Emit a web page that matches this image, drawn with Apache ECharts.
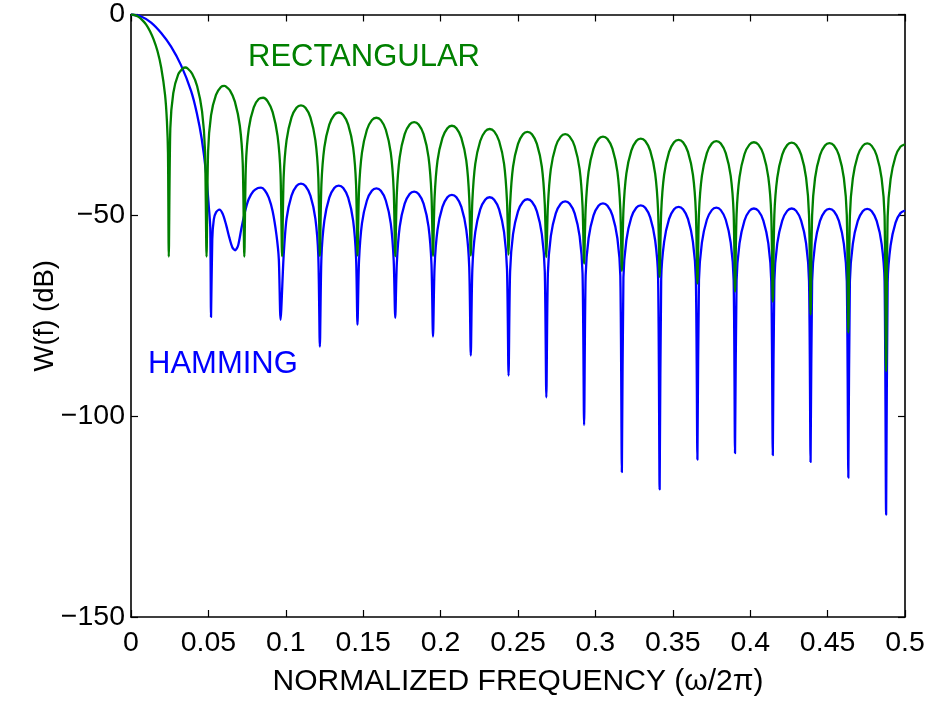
<!DOCTYPE html>
<html>
<head>
<meta charset="utf-8">
<script src="https://cdn.jsdelivr.net/npm/echarts@6/dist/echarts.min.js"></script>
<style>
html,body{margin:0;padding:0;background:#fff;}
#chart{width:932px;height:702px;}
</style>
</head>
<body>
<div id="chart"></div>
<script>
// ---- Data ----
const xTicks = [0, 0.05, 0.1, 0.15, 0.2, 0.25, 0.3, 0.35, 0.4, 0.45, 0.5];
const yTicks = [0, -50, -100, -150];

// Rectangular window: main lobe and first three sidelobes
const rectEarlyFreq = [
  0, 0.0024, 0.0049, 0.0073, 0.0098, 0.0122, 0.0146, 0.0171, 0.0195, 0.0220, 0.0232, 0.0239, 0.0244,
  0.0254, 0.0273, 0.0305, 0.0337, 0.0351, 0.0366, 0.0395, 0.0427, 0.0459, 0.0478, 0.0488,
  0.0498, 0.0517, 0.0549, 0.0581, 0.0603, 0.0610, 0.0639, 0.0671, 0.0703, 0.0722, 0.0732,
  0.0742, 0.0761, 0.0793, 0.0825, 0.0854, 0.0883, 0.0915, 0.0947, 0.0966, 0.0976
];
const rectEarlyDb = [
  0, -0.15, -0.6, -1.4, -2.5, -4.1, -6.2, -9.1, -13.2, -20.0, -26.5, -34.5, -60.3,
  -28.3, -19.6, -14.9, -13.35, -13.2, -13.45, -14.75, -17.8, -24.1, -33.8, -60.3,
  -34.1, -25.1, -20.0, -18.06, -17.78, -17.85, -18.9, -21.7, -27.7, -37.3, -60.3,
  -37.6, -28.4, -23.1, -21.05, -20.72, -21.64, -24.3, -30.3, -39.8, -60.2
];

// Hamming window: main lobe, small first sidelobe, shallow dip, second sidelobe
const hammEarlyFreq = [
  0, 0.0065, 0.0130, 0.0195, 0.0259, 0.0323, 0.0388, 0.0425, 0.0457, 0.0485, 0.0503, 0.0512, 0.0517,
  0.0525, 0.0535, 0.0550, 0.0571, 0.0592, 0.0612, 0.0635, 0.0655, 0.0673,
  0.0692, 0.0712, 0.0737, 0.0760, 0.0790, 0.0820, 0.0840, 0.0865, 0.0890, 0.0915, 0.0940, 0.0955, 0.0966
];
const hammEarlyDb = [
  0, -0.5, -2.0, -4.6, -8.0, -12.6, -19.0, -24.5, -31.0, -39.5, -48.0, -53.0, -75.3,
  -56.0, -51.0, -49.2, -48.6, -49.6, -52.0, -55.5, -58.0, -58.7,
  -57.5, -53.5, -49.0, -46.0, -44.0, -43.2, -43.1, -43.8, -45.6, -49.0, -55.0, -61.0, -76.0
];

// Shared frequency grid for the far sidelobes (both windows have nulls here)
const lobeFreq = [
  0.0986, 0.1005, 0.1037, 0.1069, 0.1098, 0.1127, 0.1159, 0.1191, 0.1210, 0.1220,
  0.1230, 0.1249, 0.1281, 0.1313, 0.1342, 0.1371, 0.1403, 0.1435, 0.1454, 0.1463,
  0.1473, 0.1492, 0.1524, 0.1556, 0.1585, 0.1614, 0.1646, 0.1678, 0.1697, 0.1707,
  0.1717, 0.1736, 0.1768, 0.1800, 0.1829, 0.1858, 0.1890, 0.1922, 0.1941, 0.1951,
  0.1961, 0.1980, 0.2012, 0.2044, 0.2073, 0.2102, 0.2134, 0.2166, 0.2185, 0.2195,
  0.2205, 0.2224, 0.2256, 0.2288, 0.2317, 0.2346, 0.2378, 0.2410, 0.2429, 0.2439,
  0.2449, 0.2468, 0.2500, 0.2532, 0.2561, 0.2590, 0.2622, 0.2654, 0.2673, 0.2683,
  0.2693, 0.2712, 0.2744, 0.2776, 0.2805, 0.2834, 0.2866, 0.2898, 0.2917, 0.2927,
  0.2937, 0.2956, 0.2988, 0.3020, 0.3049, 0.3078, 0.3110, 0.3142, 0.3161, 0.3171,
  0.3181, 0.3200, 0.3232, 0.3264, 0.3293, 0.3322, 0.3354, 0.3386, 0.3405, 0.3415,
  0.3425, 0.3444, 0.3476, 0.3508, 0.3537, 0.3566, 0.3598, 0.3630, 0.3649, 0.3659,
  0.3669, 0.3688, 0.3720, 0.3752, 0.3781, 0.3810, 0.3842, 0.3874, 0.3893, 0.3902,
  0.3912, 0.3931, 0.3963, 0.3995, 0.4024, 0.4053, 0.4085, 0.4117, 0.4136, 0.4146,
  0.4156, 0.4175, 0.4207, 0.4239, 0.4268, 0.4297, 0.4329, 0.4361, 0.4380, 0.4390,
  0.4400, 0.4419, 0.4451, 0.4483, 0.4512, 0.4541, 0.4573, 0.4605, 0.4624, 0.4634,
  0.4644, 0.4663, 0.4695, 0.4727, 0.4756, 0.4785, 0.4817, 0.4849, 0.4868, 0.4878,
  0.4888, 0.4907, 0.4939, 0.4971, 0.5000
];
const rectLobeDb = [
  -40.6, -31.3, -25.6, -23.2, -22.6, -23.2, -25.6, -31.3, -40.6, -60.1,
  -42.4, -33.1, -27.4, -25.0, -24.4, -25.0, -27.4, -33.1, -42.4, -60.0,
  -43.7, -34.4, -28.7, -26.3, -25.7, -26.3, -28.7, -34.4, -43.7, -60.2,
  -44.8, -35.5, -29.8, -27.4, -26.8, -27.4, -29.8, -35.5, -44.8, -60.1,
  -45.7, -36.4, -30.7, -28.3, -27.7, -28.3, -30.7, -36.4, -45.7, -60.0,
  -46.5, -37.2, -31.5, -29.1, -28.5, -29.1, -31.5, -37.2, -46.5, -59.8,
  -47.2, -37.9, -32.2, -29.8, -29.2, -29.8, -32.2, -37.9, -47.2, -60.4,
  -47.8, -38.5, -32.8, -30.4, -29.8, -30.4, -32.8, -38.5, -47.8, -62.0,
  -48.4, -39.1, -33.4, -31.0, -30.4, -31.0, -33.4, -39.1, -48.4, -63.8,
  -48.9, -39.6, -33.9, -31.5, -30.9, -31.5, -33.9, -39.6, -48.9, -65.3,
  -49.2, -39.9, -34.2, -31.8, -31.2, -31.8, -34.2, -39.9, -49.2, -67.0,
  -49.5, -40.2, -34.5, -32.1, -31.5, -32.1, -34.5, -40.2, -49.5, -69.0,
  -49.8, -40.5, -34.8, -32.4, -31.8, -32.4, -34.8, -40.5, -49.8, -71.5,
  -49.9, -40.6, -34.9, -32.5, -31.9, -32.5, -34.9, -40.6, -49.9, -74.7,
  -50.0, -40.7, -35.0, -32.6, -32.0, -32.6, -35.0, -40.7, -50.0, -79.2,
  -50.1, -40.8, -35.1, -32.7, -32.1, -32.7, -35.1, -40.8, -50.1, -88.8,
  -50.3, -41.0, -35.3, -32.9, -32.3
];
const hammLobeDb = [
  -60.1, -50.8, -45.1, -42.7, -42.1, -42.7, -45.1, -50.8, -60.1, -82.7,
  -60.6, -51.3, -45.6, -43.2, -42.6, -43.2, -45.6, -51.3, -60.6, -77.2,
  -61.3, -52.0, -46.3, -43.9, -43.3, -43.9, -46.3, -52.0, -61.3, -75.5,
  -62.1, -52.8, -47.1, -44.7, -44.1, -44.7, -47.1, -52.8, -62.1, -80.2,
  -62.9, -53.6, -47.9, -45.5, -44.9, -45.5, -47.9, -53.6, -62.9, -84.9,
  -63.5, -54.2, -48.5, -46.1, -45.5, -46.1, -48.5, -54.2, -63.5, -89.9,
  -64.0, -54.7, -49.0, -46.6, -46.0, -46.6, -49.0, -54.7, -64.0, -95.3,
  -64.5, -55.2, -49.5, -47.1, -46.5, -47.1, -49.5, -55.2, -64.5, -102.2,
  -65.0, -55.7, -50.0, -47.6, -47.0, -47.6, -50.0, -55.7, -65.0, -113.9,
  -65.5, -56.2, -50.5, -48.1, -47.5, -48.1, -50.5, -56.2, -65.5, -118.2,
  -65.9, -56.6, -50.9, -48.5, -47.9, -48.5, -50.9, -56.6, -65.9, -110.8,
  -66.1, -56.8, -51.1, -48.7, -48.1, -48.7, -51.1, -56.8, -66.1, -109.2,
  -66.3, -57.0, -51.3, -48.9, -48.3, -48.9, -51.3, -57.0, -66.3, -109.7,
  -66.3, -57.0, -51.3, -48.9, -48.3, -48.9, -51.3, -57.0, -66.3, -111.4,
  -66.4, -57.1, -51.4, -49.0, -48.4, -49.0, -51.4, -57.1, -66.4, -115.3,
  -66.4, -57.1, -51.4, -49.0, -48.4, -49.0, -51.4, -57.1, -66.4, -124.5,
  -66.8, -57.5, -51.8, -49.4, -48.8
];

// ---- Build series data ----
const zip = (xs, ys) => xs.map((x, i) => [x, ys[i]]);
const rectData = zip(rectEarlyFreq, rectEarlyDb).concat(zip(lobeFreq, rectLobeDb));
const hammData = zip(hammEarlyFreq, hammEarlyDb).concat(zip(lobeFreq, hammLobeDb));

const FONT = '"Liberation Sans", Arial, Helvetica, sans-serif';
const chart = echarts.init(document.getElementById('chart'), null, {renderer: 'canvas'});

const tickStyle = {show: true, inside: true, length: 7, lineStyle: {color: '#000', width: 1.2}};
const lineAx = {show: true, onZero: false, lineStyle: {color: '#000', width: 1.6}};

chart.setOption({
  animation: false,
  backgroundColor: '#fff',
  grid: {left: 131, top: 13, right: 27, bottom: 80, containLabel: false},
  xAxis: [
    {
      type: 'value', min: xTicks[0], max: xTicks[xTicks.length - 1], interval: 0.05,
      position: 'bottom',
      name: 'NORMALIZED FREQUENCY (\u03c9/2\u03c0)', nameLocation: 'middle', nameGap: 50,
      nameMoveOverlap: false,
      nameTextStyle: {fontFamily: FONT, fontSize: 30, color: '#000'},
      axisLine: lineAx, axisTick: tickStyle, splitLine: {show: false},
      axisLabel: {fontFamily: FONT, fontSize: 28.5, color: '#000', margin: 12,
        formatter: v => String(parseFloat(v.toFixed(2)))}
    },
    {
      type: 'value', min: xTicks[0], max: xTicks[xTicks.length - 1], interval: 0.05,
      position: 'top', axisLine: lineAx, axisTick: tickStyle,
      axisLabel: {show: false}, splitLine: {show: false}
    }
  ],
  yAxis: [
    {
      type: 'value', min: yTicks[yTicks.length - 1], max: yTicks[0], interval: 50,
      position: 'left',
      name: 'W(f) (dB)', nameLocation: 'middle', nameGap: 72, nameRotate: 90,
      nameMoveOverlap: false,
      nameTextStyle: {fontFamily: FONT, fontSize: 27.5, color: '#000'},
      axisLine: lineAx, axisTick: tickStyle, splitLine: {show: false},
      axisLabel: {fontFamily: FONT, fontSize: 28.5, color: '#000', margin: 6,
        formatter: v => String(v).replace('-', '\u2212')}
    },
    {
      type: 'value', min: yTicks[yTicks.length - 1], max: yTicks[0], interval: 50,
      position: 'right', axisLine: lineAx, axisTick: tickStyle,
      axisLabel: {show: false}, splitLine: {show: false}
    }
  ],
  series: [
    {
      name: 'HAMMING', type: 'line', data: hammData, xAxisIndex: 0, yAxisIndex: 0,
      showSymbol: false, symbol: 'none', clip: true,
      smooth: 0.25,
      lineStyle: {color: '#0000ff', width: 2.3, join: 'round'}, z: 2
    },
    {
      name: 'RECTANGULAR', type: 'line', data: rectData, xAxisIndex: 0, yAxisIndex: 0,
      showSymbol: false, symbol: 'none', clip: true,
      smooth: 0.25,
      lineStyle: {color: '#008000', width: 2.3, join: 'round'}, z: 3
    }
  ],
  graphic: [
    {type: 'text', x: 248, y: 57, z: 10,
      style: {text: 'RECTANGULAR', fill: '#008000', fontFamily: FONT, fontSize: 31,
        verticalAlign: 'middle', align: 'left'}},
    {type: 'text', x: 148, y: 364, z: 10,
      style: {text: 'HAMMING', fill: '#0000ff', fontFamily: FONT, fontSize: 31,
        verticalAlign: 'middle', align: 'left'}}
  ]
});
</script>
</body>
</html>
